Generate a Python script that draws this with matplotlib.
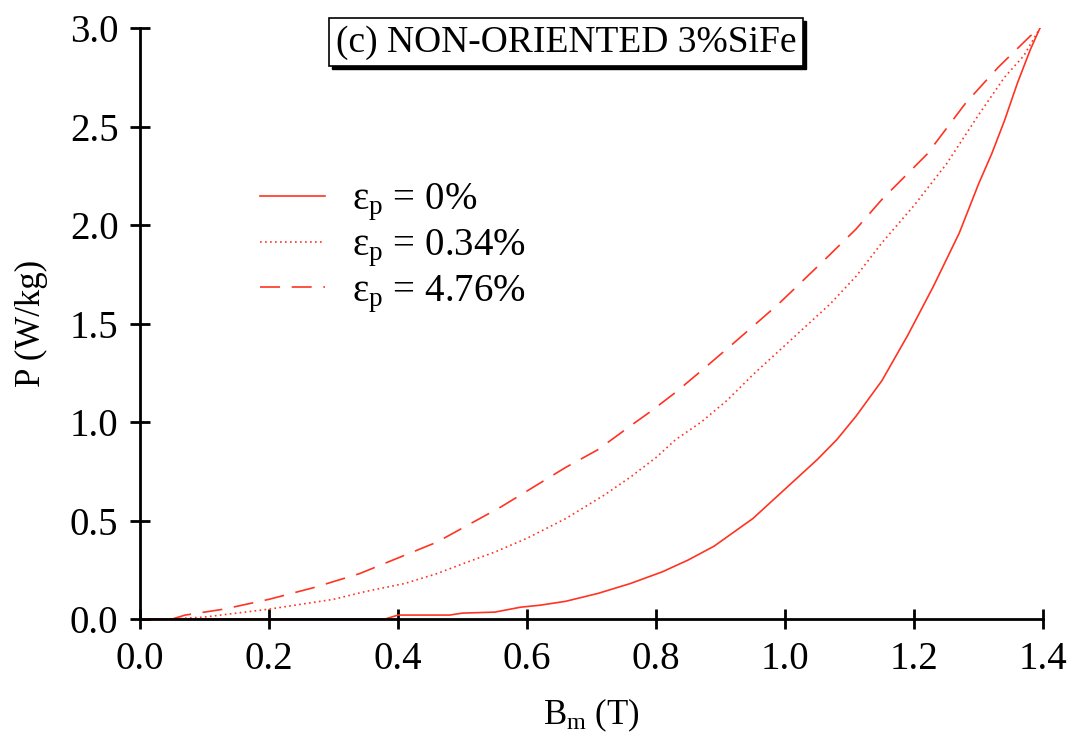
import matplotlib
matplotlib.use('Agg')
import matplotlib.pyplot as plt
from matplotlib.patches import Rectangle

plt.rcParams['font.family'] = ['Liberation Serif', 'DejaVu Serif']
plt.rcParams['mathtext.fontset'] = 'custom'
plt.rcParams['mathtext.rm'] = 'Liberation Serif'
plt.rcParams['mathtext.it'] = 'Liberation Serif:italic'

# P(B) loss curves
b_0 = [0.0, 0.1, 0.2, 0.3, 0.38, 0.40, 0.48, 0.50, 0.55, 0.59, 0.62, 0.66, 0.71, 0.76,
       0.81, 0.85, 0.89, 0.92, 0.95, 0.97, 1.00, 1.02, 1.05, 1.08, 1.11, 1.15, 1.19,
       1.23, 1.27, 1.30, 1.32, 1.34, 1.36, 1.38, 1.395]
p_0 = [0.0, 0.0, 0.0, 0.0, 0.0, 0.02, 0.02, 0.03, 0.035, 0.06, 0.07, 0.09, 0.13, 0.18,
       0.24, 0.30, 0.37, 0.44, 0.51, 0.57, 0.66, 0.72, 0.81, 0.91, 1.03, 1.21, 1.44,
       1.69, 1.96, 2.21, 2.36, 2.53, 2.72, 2.89, 3.0]

b_034 = [0.0, 0.05, 0.1, 0.15, 0.2, 0.25, 0.3, 0.35, 0.41, 0.46, 0.5, 0.55, 0.6, 0.66,
         0.72, 0.76, 0.8, 0.83, 0.87, 0.91, 0.95, 0.99, 1.03, 1.07, 1.11, 1.15, 1.2,
         1.25, 1.3, 1.34, 1.37, 1.395]
p_034 = [0.0, 0.0, 0.01, 0.03, 0.05, 0.075, 0.10, 0.14, 0.18, 0.23, 0.28, 0.34, 0.41,
         0.51, 0.63, 0.72, 0.82, 0.91, 1.0, 1.11, 1.24, 1.36, 1.48, 1.60, 1.74, 1.91,
         2.10, 2.31, 2.56, 2.75, 2.86, 3.0]

b_476 = [0.0, 0.05, 0.07, 0.13, 0.2, 0.27, 0.34, 0.4, 0.46, 0.51, 0.56, 0.61, 0.66,
         0.71, 0.76, 0.79, 0.83, 0.87, 0.92, 0.99, 1.06, 1.11, 1.15, 1.22, 1.28, 1.33,
         1.38, 1.395]
p_476 = [0.0, 0.0, 0.02, 0.05, 0.10, 0.16, 0.23, 0.31, 0.39, 0.48, 0.57, 0.67, 0.77,
         0.86, 0.98, 1.05, 1.15, 1.26, 1.40, 1.60, 1.82, 1.98, 2.13, 2.36, 2.62, 2.80,
         2.96, 3.0]

labels = [r'ε$_\mathrm{p}$ = 0%', r'ε$_\mathrm{p}$ = 0.34%', r'ε$_\mathrm{p}$ = 4.76%']
x_ticks = [0.0, 0.2, 0.4, 0.6, 0.8, 1.0, 1.2, 1.4]
y_ticks = [0.0, 0.5, 1.0, 1.5, 2.0, 2.5, 3.0]

red = '#ff3322'

fig = plt.figure(figsize=(10.81, 7.40), dpi=100)
ax = fig.add_axes([0.1295, 0.1635, 0.8355, 0.7985])

ax.plot(b_0, p_0, color=red, lw=1.2, label=labels[0])
ax.plot(b_034, p_034, color=red, lw=1.2, ls=(0, (1, 2)), label=labels[1])
ax.plot(b_476, p_476, color=red, lw=1.2, ls=(0, (12, 7)), label=labels[2])

ax.set_xlim(0, 1.4)
ax.set_ylim(0, 3.0)
ax.set_xticks(x_ticks)
ax.set_yticks(y_ticks)
ax.set_xticklabels(['%.1f' % v for v in x_ticks])
ax.set_yticklabels(['%.1f' % v for v in y_ticks])
ax.tick_params(direction='inout', length=15, width=2, labelsize=28)
ax.tick_params(axis='x', pad=8)
ax.tick_params(axis='y', pad=8)

for side in ['top', 'right']:
    ax.spines[side].set_visible(False)
for side in ['left', 'bottom']:
    ax.spines[side].set_linewidth(2)

ax.set_xlabel(r'B$_\mathrm{m}$ (T)', fontsize=25, labelpad=14)
ax.set_ylabel('P (W/kg)', fontsize=25, labelpad=16)

ax.legend(loc='upper left', bbox_to_anchor=(0.111, 0.773), frameon=False, fontsize=28,
          handlelength=1.67, handletextpad=0.7, labelspacing=0.1, borderpad=0)

t = ax.text(0.472, 0.976, '(c) NON-ORIENTED 3%SiFe', transform=ax.transAxes,
            ha='center', va='center', fontsize=27,
            bbox=dict(boxstyle='square,pad=0.18', fc='white', ec='black', lw=1.2))

# drop shadow behind the title box
fig.canvas.draw()
bb = t.get_bbox_patch().get_window_extent()
shadow = Rectangle((bb.x0 + 3, bb.y0 - 3), bb.width, bb.height, transform=None,
                   fc='black', ec='black')
shadow.set_clip_on(False)
ax.add_artist(shadow)
shadow.set_zorder(4)
t.set_zorder(5)

fig.savefig('out.png', dpi=100)
